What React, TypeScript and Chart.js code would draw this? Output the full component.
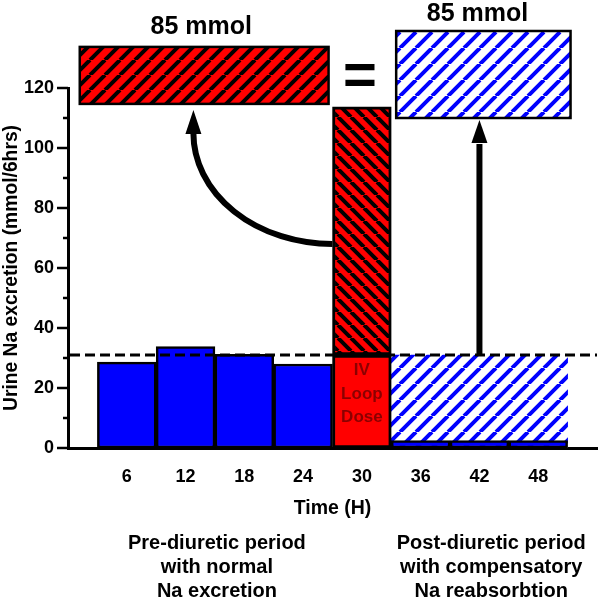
import React, { useEffect, useRef } from 'react';
import { Chart, registerables } from 'chart.js';

Chart.register(...registerables);

const FONT = '"Liberation Sans", Arial, Helvetica, sans-serif';

// ---- data ----
const hours = [6, 12, 18, 24, 30, 36, 42, 48];
const xTickLabels = ['6', '12', '18', '24', '30', '36', '42', '48'];
const blueHours = [6, 12, 18, 24, 36, 42, 48];
const blueValues = [28.6, 33.8, 31.2, 28.0, 2.5, 2.5, 2.5];
const doseHour = 30;
const baselineValue = 31;
const doseTotal = 113.7;
const compHours = [36, 42, 48];
const doseText = ['IV', 'Loop', 'Dose'];
const yTitle = 'Urine Na excretion (mmol/6hrs)';
const xTitle = 'Time (H)';
const boxLabels = ['85 mmol', '85 mmol'];
const groupLeft = ['Pre-diuretic period', 'with normal', 'Na excretion'];
const groupRight = ['Post-diuretic period', 'with compensatory', 'Na reabsorbtion'];

// annotation geometry in data units (hours, mmol)
const redBoxX = [1.2, 26.6];
const redBoxY = [114.7, 133.7];
const blueBoxX = [33.5, 51.3];
const blueBoxY = [110, 139];
const labelLeftPos = [13.6, 140.3];
const labelRightPos = [41.8, 144.7];
const equalsPos = [29.8, 123.3];
const curveStart = [27, 68];
const curveEnd = [12.8, 105];
const curveTip = 112.7;
const straightX = 42;
const straightBase = 101.7;
const straightTip = 109.3;
const groupLeftX = 15.2;
const groupRightX = 43.2;

function makeHatch(bg: string, fg: string, period: number, lw: number, dir: string) {
  const c = document.createElement('canvas');
  c.width = period;
  c.height = period;
  const g = c.getContext('2d')!;
  g.fillStyle = bg;
  g.fillRect(0, 0, period, period);
  g.strokeStyle = fg;
  g.lineWidth = lw;
  g.beginPath();
  for (const k of [-1, 0, 1]) {
    if (dir === '/') {
      g.moveTo(k * period, period);
      g.lineTo(k * period + period, 0);
    } else {
      g.moveTo(k * period, 0);
      g.lineTo(k * period + period, period);
    }
  }
  g.stroke();
  return g.createPattern(c, 'repeat')!;
}

const App = () => {
  const ref = useRef<HTMLCanvasElement>(null);
  useEffect(() => {
    document.body.style.margin = '0';
    const canvas = ref.current!;
    const redHatchBar = makeHatch('#ff0000', '#000000', 13, 4, '\\');
    const redHatchBox = makeHatch('#ff0000', '#000000', 15, 4, '/');
    const blueHatch = makeHatch('#ffffff', '#0000ff', 16, 4, '/');

    const overlay = {
      id: 'overlay',
      afterDatasetsDraw(chart: any) {
        const { ctx, chartArea, scales } = chart;
        const x = scales.x;
        const y = scales.y;
        ctx.save();
        const yb = y.getPixelForValue(baselineValue);
        ctx.strokeStyle = '#000';
        ctx.lineWidth = 3;
        ctx.setLineDash([10, 5]);
        ctx.beginPath();
        ctx.moveTo(chartArea.left + 2, yb);
        ctx.lineTo(chartArea.right, yb);
        ctx.stroke();
        ctx.setLineDash([]);
        // IV Loop Dose text
        ctx.fillStyle = '#8b0000';
        ctx.font = `bold 17px ${FONT}`;
        ctx.textAlign = 'center';
        ctx.textBaseline = 'middle';
        const offs = [15, 39, 62];
        doseText.forEach((t, i) => ctx.fillText(t, x.getPixelForValue(doseHour), yb + offs[i]));
        ctx.restore();
      },
      afterDraw(chart: any) {
        const { ctx, chartArea, scales } = chart;
        const x = scales.x;
        const y = scales.y;
        ctx.save();
        // top boxes
        const box = (bx: number[], by: number[], fill: any) => {
          const x0 = x.getPixelForValue(bx[0]);
          const x1 = x.getPixelForValue(bx[1]);
          const y0 = y.getPixelForValue(by[1]);
          const y1 = y.getPixelForValue(by[0]);
          ctx.fillStyle = fill;
          ctx.fillRect(x0, y0, x1 - x0, y1 - y0);
          ctx.strokeStyle = '#000';
          ctx.lineWidth = 2.5;
          ctx.strokeRect(x0, y0, x1 - x0, y1 - y0);
        };
        box(redBoxX, redBoxY, redHatchBox);
        box(blueBoxX, blueBoxY, blueHatch);
        ctx.fillStyle = '#000';
        ctx.textAlign = 'center';
        ctx.textBaseline = 'middle';
        ctx.font = `bold 25px ${FONT}`;
        ctx.fillText(boxLabels[0], x.getPixelForValue(labelLeftPos[0]), y.getPixelForValue(labelLeftPos[1]));
        ctx.fillText(boxLabels[1], x.getPixelForValue(labelRightPos[0]), y.getPixelForValue(labelRightPos[1]));
        ctx.font = `bold 58px ${FONT}`;
        ctx.fillText('=', x.getPixelForValue(equalsPos[0]), y.getPixelForValue(equalsPos[1]));

        // curved arrow
        ctx.strokeStyle = '#000';
        ctx.fillStyle = '#000';
        ctx.lineWidth = 6;
        const sx = x.getPixelForValue(curveStart[0]);
        const sy = y.getPixelForValue(curveStart[1]);
        const ex = x.getPixelForValue(curveEnd[0]);
        const ey = y.getPixelForValue(curveEnd[1]);
        ctx.beginPath();
        ctx.ellipse(sx, ey, sx - ex, sy - ey, 0, Math.PI / 2, Math.PI);
        ctx.stroke();
        const head = (tx: number, ty: number, by: number) => {
          ctx.beginPath();
          ctx.moveTo(tx, ty);
          ctx.lineTo(tx - 8, by);
          ctx.lineTo(tx + 8, by);
          ctx.closePath();
          ctx.fill();
        };
        head(ex, y.getPixelForValue(curveTip), ey + 1);
        // straight arrow
        const ax = x.getPixelForValue(straightX);
        ctx.beginPath();
        ctx.moveTo(ax, y.getPixelForValue(baselineValue));
        ctx.lineTo(ax, y.getPixelForValue(straightBase) + 1);
        ctx.stroke();
        head(ax, y.getPixelForValue(straightTip), y.getPixelForValue(straightBase));

        // group labels
        ctx.font = `bold 20px ${FONT}`;
        const lineY = [95, 119, 143];
        groupLeft.forEach((t, i) => ctx.fillText(t, x.getPixelForValue(groupLeftX), chartArea.bottom + lineY[i]));
        groupRight.forEach((t, i) => ctx.fillText(t, x.getPixelForValue(groupRightX), chartArea.bottom + lineY[i]));

        // y minor/major tick marks
        ctx.lineWidth = 2.5;
        for (let v = 0; v <= 120; v += 10) {
          const py = y.getPixelForValue(v);
          const len = v % 20 === 0 ? 11 : 5;
          ctx.beginPath();
          ctx.moveTo(chartArea.left - len, py);
          ctx.lineTo(chartArea.left, py);
          ctx.stroke();
        }
        ctx.restore();
      },
    };

    const barCommon = {
      borderColor: '#000',
      borderSkipped: false,
      grouped: false,
      barPercentage: 1,
      categoryPercentage: 1,
    };

    const chart = new Chart(canvas, {
      type: 'bar',
      data: {
        datasets: [
          {
            ...barCommon,
            label: 'Na excretion',
            data: blueHours.map((h, i) => ({ x: h, y: blueValues[i] })),
            backgroundColor: '#0000ff',
            borderWidth: 2.5,
            order: 1,
          },
          {
            ...barCommon,
            label: 'IV loop dose baseline',
            data: [{ x: doseHour, y: [0, baselineValue] }],
            backgroundColor: '#ff0000',
            borderWidth: 3,
            order: 1,
          },
          {
            ...barCommon,
            label: 'IV loop dose excess',
            data: [{ x: doseHour, y: [baselineValue, doseTotal] }],
            backgroundColor: redHatchBar,
            borderWidth: 3,
            order: 1,
          },
          {
            ...barCommon,
            label: 'Compensatory reabsorption',
            data: compHours.map((h) => ({ x: h, y: [0, baselineValue] })),
            backgroundColor: blueHatch,
            borderWidth: 0,
            order: 2,
          },
        ] as any,
      },
      options: {
        animation: false,
        responsive: true,
        maintainAspectRatio: false,
        layout: { padding: { top: 88, left: 0, right: 3, bottom: 82.6 } },
        plugins: { legend: { display: false }, tooltip: { enabled: false } },
        scales: {
          x: {
            type: 'linear',
            min: 0,
            max: 54,
            offset: false,
            afterBuildTicks: (s: any) => {
              s.ticks = hours.map((v) => ({ value: v }));
            },
            afterFit: (s: any) => {
              s.height = 72.4;
            },
            ticks: {
              callback: (_v: any, i: number) => xTickLabels[i],
              font: { family: FONT, size: 18, weight: 'bold' },
              color: '#000',
              padding: 18,
              autoSkip: false,
              maxRotation: 0,
            },
            grid: { display: false, drawTicks: false, offset: false },
            border: { display: true, color: '#000', width: 3 },
            title: {
              display: true,
              text: xTitle,
              font: { family: FONT, size: 19.5, weight: 'bold' },
              color: '#000',
              padding: 0,
            },
          },
          y: {
            type: 'linear',
            min: 0,
            max: 120,
            afterFit: (s: any) => {
              s.width = 68;
            },
            ticks: {
              stepSize: 10,
              callback: (v: any) => (Number(v) % 20 === 0 ? String(v) : ''),
              font: { family: FONT, size: 18, weight: 'bold' },
              color: '#000',
              padding: 14,
            },
            grid: { display: false, drawTicks: false },
            border: { display: true, color: '#000', width: 3 },
            title: {
              display: true,
              text: yTitle,
              font: { family: FONT, size: 19.3, weight: 'bold' },
              color: '#000',
              padding: 0,
            },
          },
        },
      } as any,
      plugins: [overlay],
    });
    return () => chart.destroy();
  }, []);
  return (
    <div style={{ width: 600, height: 603, position: 'relative' }}>
      <canvas ref={ref} />
    </div>
  );
};

export default App;
